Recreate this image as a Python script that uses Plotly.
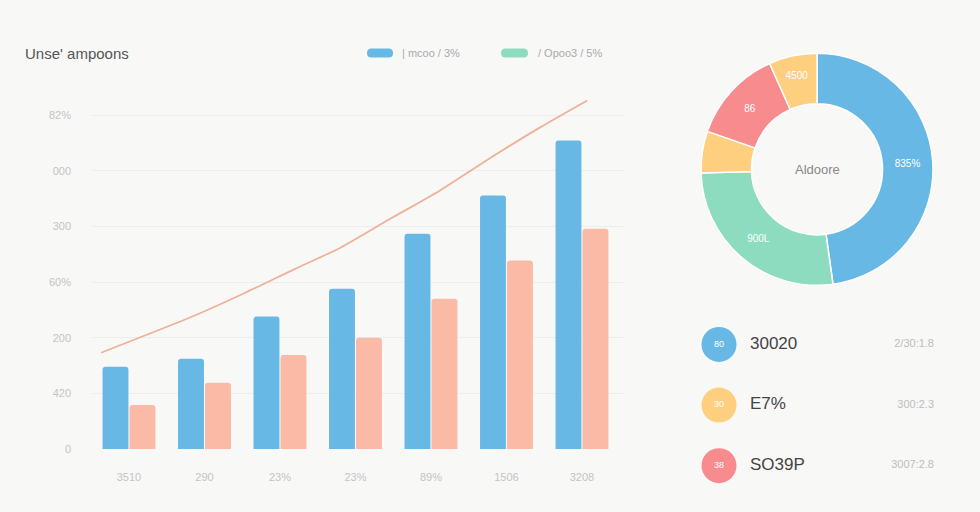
import plotly.graph_objects as go

# ---------------- data ----------------
categories = ["3510", "290", "23%", "23%", "89%", "1506", "3208"]
blue_values = [148, 162, 238, 288, 387, 456, 555]
salmon_values = [79, 119, 169, 200, 270, 339, 396]

trend_x = [-0.37, 0.21, 0.87, 1.54, 2.2, 2.8, 3.46, 4.12, 4.78, 5.44, 6.07]
trend_y = [173, 204, 240, 281, 324, 362, 414, 465, 523, 578, 627]

y_tickvals = [0, 100, 200, 300, 400, 500, 600]
y_ticktext = ["0", "420", "200", "60%", "300", "000", "82%"]

donut_labels = ["A", "B", "C", "D", "E"]
donut_values = [47.8, 26.7, 5.8, 13.0, 6.7]
donut_text = ["835%", "900L", "", "86", "4500"]
donut_colors = ["#68b8e6", "#8ddcc0", "#fecf7e", "#f78b8e", "#fecf7e"]

list_badges = ["80", "30", "38"]
list_main = ["30020", "E7%", "SO39P"]
list_side = ["2/30:1.8", "300:2.3", "3007:2.8"]
list_colors = ["#68b8e6", "#fecf7e", "#f78b8e"]

legend_labels = ["| mcoo / 3%", "/ Opoo3 / 5%"]

W, H = 980, 512
HV = 505  # effective rendered height used for paper-fraction placement
def px(x):
    return x / W
def py(y):
    return 1 - y / HV

BLUE = "#68b8e6"
SALMON = "#fbbaa6"
GREEN = "#8ddcc0"
BG = "#f8f8f7"

fig = go.Figure()

xs = list(range(len(categories)))
fig.add_trace(go.Bar(x=xs, y=blue_values, marker=dict(color=BLUE, line=dict(width=0)),
                     showlegend=False, hoverinfo="skip"))
fig.add_trace(go.Bar(x=xs, y=salmon_values, marker=dict(color=SALMON, line=dict(width=0)),
                     showlegend=False, hoverinfo="skip"))
fig.add_trace(go.Scatter(x=trend_x, y=trend_y, mode="lines",
                         line=dict(color="#f0b199", width=1.8, shape="spline", smoothing=0.8),
                         showlegend=False, hoverinfo="skip"))

# donut
fig.add_trace(go.Pie(labels=donut_labels, values=donut_values, text=donut_text,
                     textinfo="text", textposition="inside", insidetextorientation="horizontal",
                     textfont=dict(color="white", size=10, family="Liberation Sans"),
                     marker=dict(colors=donut_colors, line=dict(color="white", width=1.5)),
                     hole=0.565, sort=False, direction="clockwise", rotation=0,
                     domain=dict(x=[px(701), px(933)], y=[py(285), py(53)]),
                     showlegend=False, hoverinfo="skip"))

# bottom-right list
rows = list(range(len(list_main)))
fig.add_trace(go.Scatter(x=[33] * len(rows), y=rows, mode="markers+text",
                         marker=dict(size=35, color=list_colors, line=dict(width=0)),
                         text=list_badges, textposition="middle center",
                         textfont=dict(color="white", size=9, family="Liberation Sans"),
                         xaxis="x2", yaxis="y2", showlegend=False, hoverinfo="skip"))
fig.add_trace(go.Scatter(x=[64] * len(rows), y=rows, mode="text",
                         text=list_main, textposition="middle right",
                         textfont=dict(color="#444444", size=17, family="Liberation Sans"),
                         xaxis="x2", yaxis="y2", showlegend=False, hoverinfo="skip"))
fig.add_trace(go.Scatter(x=[248] * len(rows), y=rows, mode="text",
                         text=list_side, textposition="middle left",
                         textfont=dict(color="#bdbdbd", size=11, family="Liberation Sans"),
                         xaxis="x2", yaxis="y2", showlegend=False, hoverinfo="skip"))

# legend pills
def pill(x0, x1, yc, h, color):
    r = h / 2
    path = (f"M {px(x0 + r)} {py(yc - r)} L {px(x1 - r)} {py(yc - r)} "
            f"Q {px(x1)} {py(yc - r)} {px(x1)} {py(yc)} Q {px(x1)} {py(yc + r)} {px(x1 - r)} {py(yc + r)} "
            f"L {px(x0 + r)} {py(yc + r)} Q {px(x0)} {py(yc + r)} {px(x0)} {py(yc)} "
            f"Q {px(x0)} {py(yc - r)} {px(x0 + r)} {py(yc - r)} Z")
    return dict(type="path", xref="paper", yref="paper", path=path,
                fillcolor=color, line=dict(width=0), layer="above")

shapes = [pill(367, 393, 53, 9, BLUE), pill(501, 528, 53, 9, GREEN)]

annotations = [
    dict(text="Unse' ampoons", x=px(23), y=py(53), xref="paper", yref="paper",
         xanchor="left", yanchor="middle", showarrow=False,
         font=dict(size=15, color="#555555", family="Liberation Sans")),
    dict(text=legend_labels[0], x=px(400), y=py(53), xref="paper", yref="paper",
         xanchor="left", yanchor="middle", showarrow=False,
         font=dict(size=11, color="#aaaaaa", family="Liberation Sans")),
    dict(text=legend_labels[1], x=px(536), y=py(53), xref="paper", yref="paper",
         xanchor="left", yanchor="middle", showarrow=False,
         font=dict(size=11, color="#aaaaaa", family="Liberation Sans")),
    dict(text="Aldoore", x=px(817), y=py(169), xref="paper", yref="paper",
         xanchor="center", yanchor="middle", showarrow=False,
         font=dict(size=13, color="#888888", family="Liberation Sans")),
]

fig.update_layout(
    width=W, height=H, autosize=False,
    margin=dict(l=0, r=0, t=0, b=0),
    paper_bgcolor=BG, plot_bgcolor=BG,
    barmode="group", bargap=0.285, bargroupgap=0.04, barcornerradius=3,
    shapes=shapes, annotations=annotations,
    xaxis=dict(domain=[px(92), px(625)], range=[-0.49, 6.57],
               tickvals=xs, ticktext=categories, showgrid=False, zeroline=False,
               showline=False, ticks="", tickfont=dict(size=11, color="#c4c4c4", family="Liberation Sans"),
               ticklabelstandoff=20),
    yaxis=dict(domain=[py(448), py(93)], range=[0, 640],
               tickvals=y_tickvals, ticktext=y_ticktext,
               showgrid=True, gridcolor="#ededed", gridwidth=1, zeroline=False, showline=False,
               ticks="", tickfont=dict(size=11, color="#c4c4c4", family="Liberation Sans"),
               ticklabelstandoff=20),
    xaxis2=dict(domain=[px(686), 1.0], range=[0, 294], visible=False, anchor="y2"),
    yaxis2=dict(domain=[py(495), py(313.5)], range=[2.5, -0.5], visible=False, anchor="x2"),
)

post = ("document.body.style.margin='0';document.body.style.padding='0';"
        "document.body.style.overflow='hidden';document.body.style.background='#f8f8f7';")

fig.write_html("out.html", config={"displayModeBar": False},
               post_script=post)
